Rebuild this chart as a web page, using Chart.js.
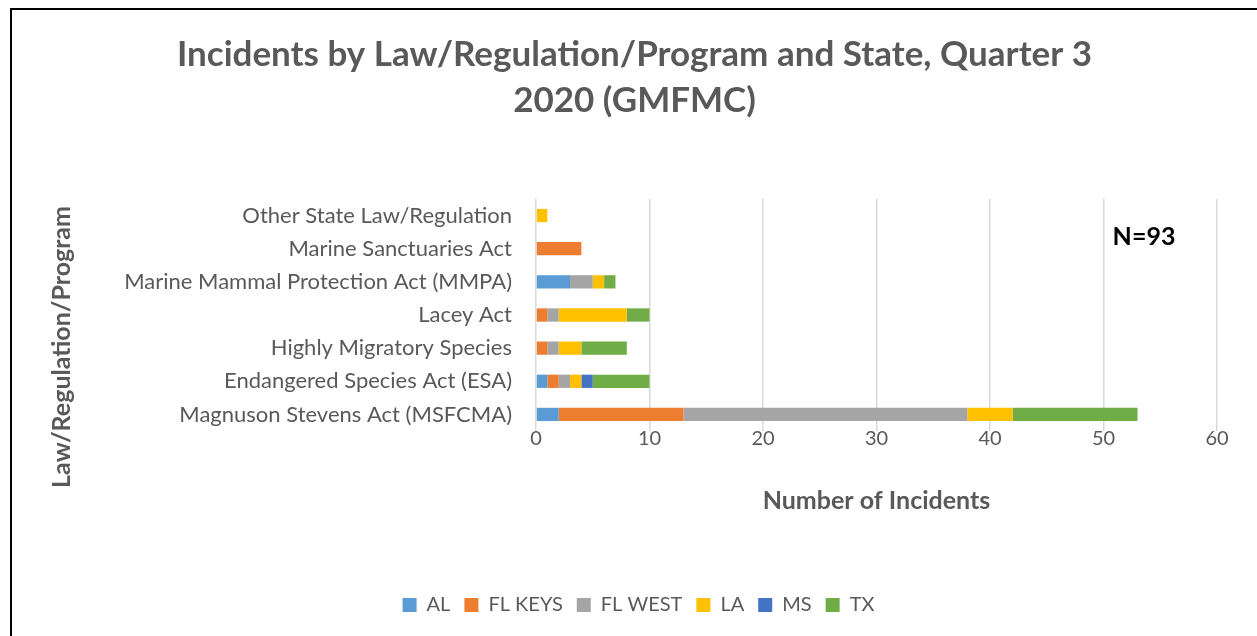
<!DOCTYPE html>
<html>
<head>
<meta charset="utf-8">
<script src="https://cdn.jsdelivr.net/npm/chart.js@4/dist/chart.umd.min.js"></script>
<style>
  html, body { margin: 0; padding: 0; background: #fff; }
  canvas { display: block; }
</style>
</head>
<body>
<canvas id="incidentsChart" width="1257" height="636"></canvas>
<script>
const ctx = document.getElementById("incidentsChart").getContext("2d");

// categories, top to bottom
const laws = [
  "Other State Law/Regulation",
  "Marine Sanctuaries Act",
  "Marine Mammal Protection Act (MMPA)",
  "Lacey Act",
  "Highly Migratory Species",
  "Endangered Species Act (ESA)",
  "Magnuson Stevens Act (MSFCMA)",
];

// incidents per state, same order as laws
const al     = [0, 0, 3, 0, 0, 1, 2];
const flKeys = [0, 4, 0, 1, 1, 1, 11];
const flWest = [0, 0, 2, 1, 1, 1, 25];
const la     = [1, 0, 1, 6, 2, 1, 4];
const ms     = [0, 0, 0, 0, 0, 1, 0];
const tx     = [0, 0, 1, 2, 4, 5, 11];

const xTicks = [0, 10, 20, 30, 40, 50, 60];
const totalLabel = "N=93";

const FONT = "Lato";
const GREY = "#595959";

// title and legend are centred on the whole frame, not the plot
const shiftBlocks = {
  id: "shiftBlocks",
  afterLayout(chart) {
    chart.titleBlock.left += 16;
    chart.titleBlock.right += 16;
    chart.legend.left += 20;
    chart.legend.right += 20;
  },
};

// frame + y title + N label
const extras = {
  id: "extras",
  afterDraw(chart) {
    const c = chart.ctx;
    c.save();
    c.strokeStyle = "#000";
    c.lineWidth = 2;
    c.beginPath();
    c.moveTo(11, 700);
    c.lineTo(11, 9);
    c.lineTo(1300, 9);
    c.stroke();

    c.fillStyle = GREY;
    c.font = "bold 25px " + FONT;
    c.textAlign = "center";
    c.textBaseline = "middle";
    c.translate(62, 347);
    c.rotate(-Math.PI / 2);
    c.fillText("Law/Regulation/Program", 0, 0);
    c.restore();

    c.save();
    c.fillStyle = "#000";
    c.font = "bold 25px " + FONT;
    c.textAlign = "center";
    c.textBaseline = "middle";
    c.fillText(totalLabel, 1144, 237);
    c.restore();
  },
};

const mk = (label, data, color) => ({
  label: label,
  data: data,
  backgroundColor: color,
  borderWidth: 0,
  barPercentage: 0.5,
  categoryPercentage: 0.8,
});

new Chart(ctx, {
  type: "bar",
  data: {
    labels: laws,
    datasets: [
      mk("AL", al, "#5B9BD5"),
      mk("FL KEYS", flKeys, "#ED7D31"),
      mk("FL WEST", flWest, "#A5A5A5"),
      mk("LA", la, "#FFC000"),
      mk("MS", ms, "#4472C4"),
      mk("TX", tx, "#70AD47"),
    ],
  },
  options: {
    indexAxis: "y",
    responsive: false,
    animation: false,
    layout: { padding: { left: 20, right: 40, top: 20, bottom: 11 } },
    plugins: {
      title: {
        display: true,
        text: ["Incidents by Law/Regulation/Program and State, Quarter 3", "2020 (GMFMC)"],
        color: GREY,
        font: { family: FONT, size: 35, weight: "bold", lineHeight: "46px" },
        padding: { top: 12, bottom: 75 },
      },
      legend: {
        position: "bottom",
        labels: {
          color: GREY,
          font: { family: FONT, size: 20 },
          boxWidth: 14,
          boxHeight: 14,
          padding: 14,
        },
      },
      tooltip: { enabled: false },
    },
    scales: {
      x: {
        stacked: true,
        min: 0,
        max: 60,
        afterBuildTicks(scale) {
          scale.ticks = xTicks.map(v => ({ value: v }));
        },
        afterFit(scale) { scale.height = 150; },
        grid: { color: "#D9D9D9", lineWidth: 1.5, drawTicks: false },
        border: { display: false },
        ticks: { color: GREY, font: { family: FONT, size: 20 }, padding: -4 },
        title: {
          display: true,
          text: "Number of Incidents",
          color: GREY,
          font: { family: FONT, size: 25, weight: "bold" },
          padding: { top: 0, bottom: 65 },
        },
      },
      y: {
        stacked: true,
        afterFit(scale) { scale.width = 516; },
        grid: { display: false },
        border: { display: false },
        ticks: { color: GREY, font: { family: FONT, size: 22 }, padding: 16 },
      },
    },
  },
  plugins: [shiftBlocks, extras],
});
</script>
</body>
</html>
